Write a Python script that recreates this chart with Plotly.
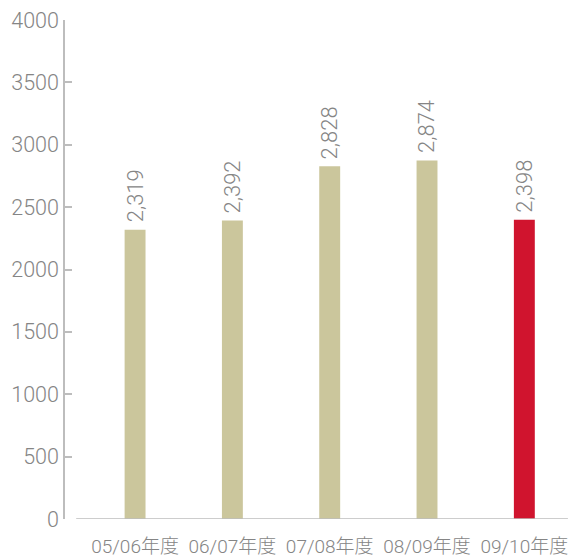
import plotly.graph_objects as go

# Fiscal-year totals
years = ["05/06年度", "06/07年度", "07/08年度", "08/09年度", "09/10年度"]
values = [2319, 2392, 2828, 2874, 2398]
bar_colors = ["#CBC69C", "#CBC69C", "#CBC69C", "#CBC69C", "#D0142E"]
y_ticks = [0, 500, 1000, 1500, 2000, 2500, 3000, 3500, 4000]

grey = "#858585"
font_family = "Roboto, Noto Sans CJK JP, Liberation Sans, sans-serif"
light = 300

fig = go.Figure(
    go.Bar(
        x=years,
        y=values,
        marker=dict(color=bar_colors, line=dict(width=0)),
        width=0.215,
        hoverinfo="skip",
    )
)

# Value labels, rotated, just above each bar
for yr, v in zip(years, values):
    fig.add_annotation(
        x=yr, y=v, text=f"{v:,}", textangle=-90,
        showarrow=False, xanchor="center", yanchor="bottom", yshift=5,
        font=dict(family=font_family, size=22, color=grey, weight=light),
    )

# Baseline drawn separately, detached from the y-axis
fig.add_shape(
    type="line", xref="paper", yref="y",
    x0=0.022, x1=0.99, y0=0, y1=0,
    line=dict(color="#bdbdbd", width=1.5),
)

fig.update_layout(
    width=581, height=558,
    margin=dict(l=65, r=8, t=20, b=39),
    paper_bgcolor="white", plot_bgcolor="white",
    showlegend=False,
    font=dict(family=font_family, color=grey),
    xaxis=dict(
        range=[-0.72, 4.5],
        showline=False, showgrid=False, zeroline=False,
        ticks="", ticklabelstandoff=14, automargin=False,
        tickfont=dict(size=19, color=grey, weight=light),
    ),
    yaxis=dict(
        range=[0, 4000],
        tickvals=y_ticks, automargin=False,
        showline=True, linecolor="#bdbdbd", linewidth=1.5,
        ticks="inside", ticklen=7, tickcolor="#bdbdbd", tickwidth=1.5,
        showgrid=False, zeroline=False,
        tickfont=dict(size=21.5, color=grey, weight=light),
    ),
)

fig.write_html("out.html")
